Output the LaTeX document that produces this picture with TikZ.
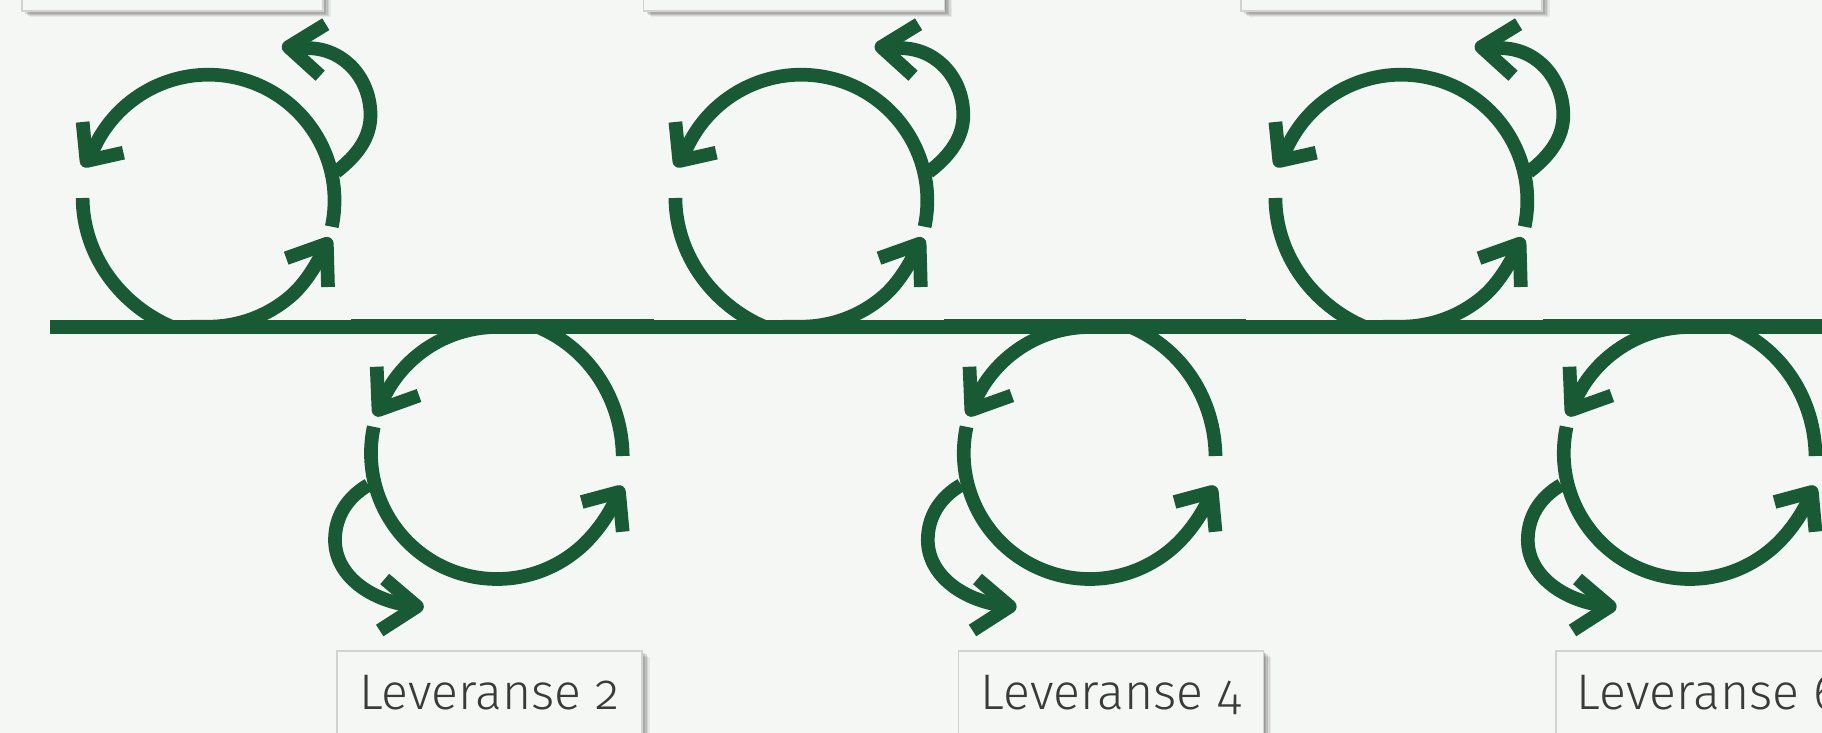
\documentclass[tikz,border=0pt]{standalone}
\usepackage{fontspec}
\setmainfont{Fira Sans Light}[Numbers=OldStyle]
\usetikzlibrary{shadows}
\definecolor{bgc}{HTML}{F5F7F4}
\definecolor{grn}{HTML}{185A34}
\definecolor{boxline}{HTML}{D2D2D2}
\definecolor{txt}{HTML}{3A3A3A}
\tikzset{
  ln/.style={draw=grn,line width=13.7pt,line cap=butt,line join=round},
  seg/.style={fill=grn,draw=none},
  lev/.style={draw=boxline,line width=1.5pt,fill=bgc,inner sep=0pt,anchor=north west,
    minimum width=305pt,text height=59pt,text depth=40pt,text=txt,font=\fontsize{50}{55}\selectfont,
    drop shadow={shadow xshift=1.6pt,shadow yshift=-1.2pt,opacity=.1,fill=black},
    drop shadow={shadow xshift=3.2pt,shadow yshift=-2.4pt,opacity=.1,fill=black},
    drop shadow={shadow xshift=4.8pt,shadow yshift=-3.6pt,opacity=.1,fill=black},
    drop shadow={shadow xshift=6.4pt,shadow yshift=-4.8pt,opacity=.08,fill=black},
    drop shadow={shadow xshift=8pt,shadow yshift=-6pt,opacity=.06,fill=black}},
  tbox/.style={lev,minimum width=301pt,minimum height=100pt,text height=,text depth=,anchor=south west}
}
\newcommand{\toploop}[1]{%
  \begin{scope}[xshift=#1pt]
    \draw[ln] (82.6,198) .. controls (83,255) and (120,305) .. (172,327) -- (208.5,326.7) arc[start angle=90,end angle=50,radius=126] .. controls (306.4,283) and (318,262) .. (326.8,243.7);
    \draw[ln] (328,287) -- (326.8,243.7) -- (286.2,258.2);
    \draw[ln] (208.5,200.7) ++(11.9:126) arc[start angle=11.9,end angle=-162,radius=126];
    \draw[ln] (82.6,122) -- (86.5,161) -- (123.4,152.7);
    \draw[ln] (336,172) .. controls (358,155) and (370.5,137) .. (370.5,115) .. controls (370.5,80) and (346,50.5) .. (311.7,48.3) -- (288.6,47);
    \draw[ln] (325.8,24.2) -- (288.6,47) -- (320.2,75.7);
  \end{scope}}
\newcommand{\botloop}[1]{%
  \begin{scope}[xshift=#1pt]
    \draw[ln] (622.7,456) .. controls (622,400) and (590,349) .. (538,327) -- (497,327) arc[start angle=-90,end angle=-160,radius=126];
    \draw[ln] (376.7,366.7) -- (378.5,410) -- (419,395.5);
    \draw[ln] (497,453) ++(192:126) arc[start angle=192,end angle=47,radius=126] .. controls (599,530) and (612,510) .. (619,492);
    \draw[ln] (622.7,531.7) -- (619,492) -- (581.7,502);
    \draw[ln] (368.3,485) .. controls (346,498) and (335,518) .. (335,540) .. controls (335,575) and (370,602) .. (417,606.5);
    \draw[ln] (384.7,579) -- (417,606.5) -- (379.7,630.5);
  \end{scope}}
\begin{document}
\begin{tikzpicture}[x=1pt,y=-1pt]
  \useasboundingbox (0,0) rectangle (1822,733);
  \clip (0,0) rectangle (1822,733);
  \fill[bgc] (0,0) rectangle (1822,733);
  \node[tbox] (b1) at (21,12) {};
  \node[tbox] (b3) at (642.6,12) {};
  \node[tbox] (b5) at (1240,12) {};
  \node[lev] (b2) at (336,650) {Leveranse 2};
  \node[lev] (b4) at (957.5,650) {Leveranse 4};
  \node[lev] (b6) at (1555,650) {Leveranse 6};
  \foreach \a/\b/\t in {50/354/320,351/654/319.3,644/947/320,943.5/1245.6/319.3,1243/1545/320,1543/1830/319.3}
    \fill[seg] (\a,\t) rectangle (\b,\t+14.3);
  \toploop{0}\toploop{592.8}\toploop{1192.8}
  \botloop{0}\botloop{592.8}\botloop{1192.8}
\end{tikzpicture}
\end{document}
